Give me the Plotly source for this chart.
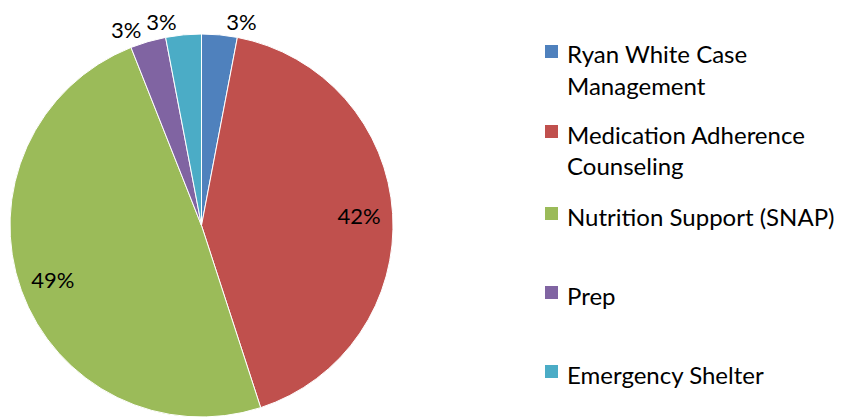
import plotly.graph_objects as go

labels = ["Ryan White Case<br>Management", "Medication Adherence<br>Counseling",
          "Nutrition Support (SNAP)", "Prep", "Emergency Shelter"]
values = [3, 42, 49, 3, 3]
colors = ["#4F81BD", "#C0504D", "#9BBB59", "#8064A2", "#4BACC6"]

W, H = 854, 417
FONT = "Lato"
PCT_FONT = dict(family=FONT, size=22, color="black")
DOMAIN = dict(x=[10 / W, 393 / W], y=[0, 383 / H])

fig = go.Figure()
# Visible pie: carries the outside labels of the first and last slices
fig.add_trace(go.Pie(
    labels=labels, values=values, sort=False, direction="clockwise", rotation=0,
    marker=dict(colors=colors, line=dict(color="white", width=1)),
    texttemplate="%{percent:.0%}",
    textposition=["outside", "none", "none", "none", "outside"],
    textfont=PCT_FONT, domain=DOMAIN, showlegend=False, hoverinfo="label+percent",
))
# Transparent overlay (ring) carrying the remaining labels so they sit like the original
fig.add_trace(go.Pie(
    labels=labels, values=values, sort=False, direction="clockwise", rotation=0,
    hole=0.65,
    marker=dict(colors=["rgba(0,0,0,0)"] * len(values), line=dict(width=0)),
    texttemplate="%{percent:.0%}",
    textposition=["none", "inside", "inside", "outside", "none"],
    insidetextorientation="horizontal",
    textfont=PCT_FONT, domain=DOMAIN, showlegend=False, hoverinfo="skip",
))

# Legend drawn manually to match spacing
shapes, annots = [], []
sq_top = [45, 125, 207, 286, 365]
for i, (lab, col) in enumerate(zip(labels, colors)):
    t = sq_top[i]
    shapes.append(dict(type="rect", xref="paper", yref="paper",
                       x0=545 / W, x1=558 / W, y0=1 - (t + 13) / H, y1=1 - t / H,
                       fillcolor=col, line=dict(width=0)))
    for j, line in enumerate(lab.split("<br>")):
        yc = t + 9 + j * 31
        annots.append(dict(text=line, xref="paper", yref="paper", x=565 / W, y=1 - yc / H,
                           xanchor="left", yanchor="middle", showarrow=False,
                           font=dict(family=FONT, size=24, color="black")))

fig.update_layout(width=W, height=H, margin=dict(l=0, r=0, t=0, b=0, autoexpand=False),
                  paper_bgcolor="white", plot_bgcolor="white",
                  shapes=shapes, annotations=annots)
fig.write_html("out.html", config={"displayModeBar": False},
               post_script="document.body.style.margin='0px';document.body.style.overflow='hidden';")
